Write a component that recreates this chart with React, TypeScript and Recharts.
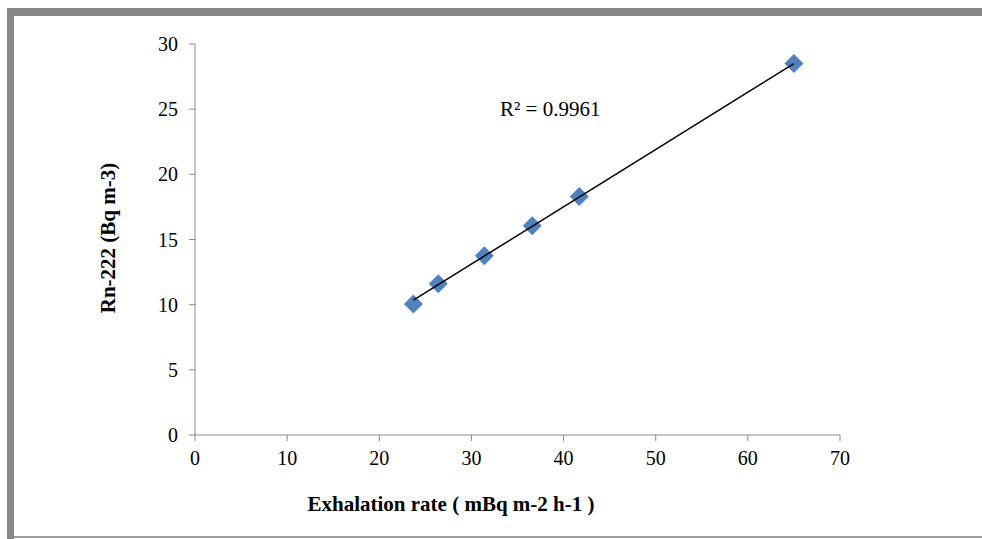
import React from 'react';
import { ScatterChart, Scatter, XAxis, YAxis } from 'recharts';

const exhalation = [23.7, 26.4, 31.4, 36.6, 41.7, 65.0];
const radon = [10.05, 11.6, 13.75, 16.05, 18.3, 28.5];
const trendX = [23.7, 65.0];
const trendY = [10.35, 28.5];
const xTicks = [0, 10, 20, 30, 40, 50, 60, 70];
const yTicks = [0, 5, 10, 15, 20, 25, 30];

const points = exhalation.map((x, i) => ({ x, y: radon[i] }));
const trend = trendX.map((x, i) => ({ x, y: trendY[i] }));

const font = '"Liberation Serif", "Times New Roman", serif';
const axisGray = '#898989';

const Diamond = (props: any) => {
    const { cx, cy } = props;
    const r = 9.5;
    return (
        <polygon
            points={`${cx},${cy - r} ${cx + r},${cy} ${cx},${cy + r} ${cx - r},${cy}`}
            fill="#4F81BD"
        />
    );
};

export default function App() {
    return (
        <div style={{ position: 'absolute', left: 0, top: 0, width: 982, height: 539, background: '#fff', fontFamily: font }}>
            {/* frame */}
            <div style={{ position: 'absolute', left: 7, top: 8, width: 975, height: 8, background: '#878787' }} />
            <div style={{ position: 'absolute', left: 7, top: 8, width: 7, height: 531, background: '#878787' }} />
            <div style={{ position: 'absolute', left: 14, top: 536, width: 968, height: 2, background: '#9a9a9a' }} />

            <div style={{ position: 'absolute', left: 0, top: 0 }}>
                <ScatterChart width={982} height={539} margin={{ top: 44, right: 142, left: 0, bottom: 0 }}>
                    <XAxis
                        type="number"
                        dataKey="x"
                        domain={[0, 70]}
                        ticks={xTicks}
                        height={104}
                        stroke={axisGray}
                        tickSize={6}
                        tickMargin={10}
                        tick={{ fill: '#000', fontSize: 20, fontFamily: font }}
                    />
                    <YAxis
                        type="number"
                        dataKey="y"
                        domain={[0, 30]}
                        ticks={yTicks}
                        width={195}
                        stroke={axisGray}
                        tickSize={6}
                        tickMargin={11}
                        tick={{ fill: '#000', fontSize: 20, fontFamily: font }}
                    />
                    <Scatter data={points} shape={<Diamond />} isAnimationActive={false} />
                    <Scatter
                        data={trend}
                        line={{ stroke: '#000', strokeWidth: 1.5 }}
                        shape={() => null}
                        isAnimationActive={false}
                    />
                </ScatterChart>
            </div>

            <div style={{ position: 'absolute', left: 500, top: 97, fontSize: 21, whiteSpace: 'nowrap' }}>
                R² = 0.9961
            </div>
            <div style={{ position: 'absolute', left: 451, top: 504, transform: 'translate(-50%, -50%)', fontSize: 21, fontWeight: 'bold', whiteSpace: 'nowrap' }}>
                Exhalation rate ( mBq m-2 h-1 )
            </div>
            <div style={{ position: 'absolute', left: 108, top: 238, transform: 'translate(-50%, -50%) rotate(-90deg)', fontSize: 21, fontWeight: 'bold', whiteSpace: 'nowrap' }}>
                Rn-222 (Bq m-3)
            </div>
        </div>
    );
}
